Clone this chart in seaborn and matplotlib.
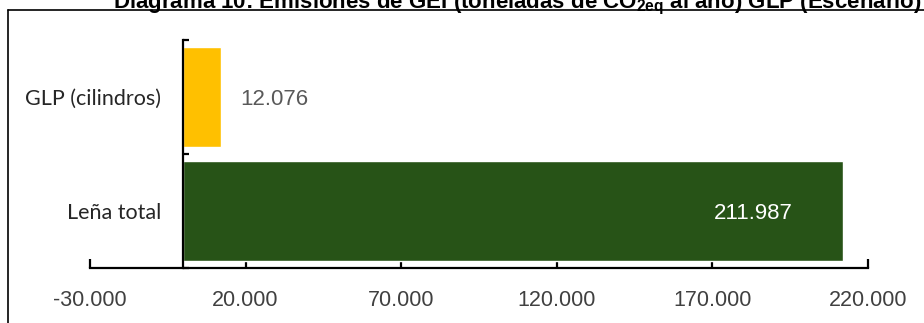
import matplotlib
matplotlib.use("Agg")
import matplotlib.pyplot as plt
from matplotlib.lines import Line2D
from matplotlib.ticker import FixedLocator, FuncFormatter
import seaborn as sns
import pandas as pd

# Emissions by fuel (t CO2eq / year)
categories = ["GLP (cilindros)", "Leña total"]
values = [12076, 211987]
colors = ["#FFC000", "#275317"]
x_ticks = [-30000, 20000, 70000, 120000, 170000, 220000]
title = r"Diagrama 10: Emisiones de GEI (toneladas de CO$_{\mathregular{2eq}}$ al año) GLP (Escenario)"

sns.set_theme(style="white")
plt.rcParams["font.family"] = ["Liberation Sans", "DejaVu Sans"]


def miles(v):
    # Spanish thousands separator
    s = f"{abs(v):,.0f}".replace(",", ".")
    return ("-" if v < 0 else "") + s


df = pd.DataFrame({"cat": categories, "val": values})

fig = plt.figure(figsize=(9.24, 3.23), dpi=100)
ax = fig.add_axes([90 / 924, 1 - 268 / 323, 778 / 924, 228 / 323])

sns.barplot(data=df, x="val", y="cat", hue="cat", palette=colors,
            orient="h", width=0.87, legend=False, ax=ax, saturation=1)

ax.set_xlim(x_ticks[0], x_ticks[-1])
ax.set_ylim(1.5, -0.5)
ax.set_xlabel("")
ax.set_ylabel("")

# Axes styling: y axis at zero, x axis spanning the full range
for side in ("top", "right"):
    ax.spines[side].set_visible(False)
ax.spines["left"].set_position(("data", 0))
for side in ("left", "bottom"):
    ax.spines[side].set_color("black")
    ax.spines[side].set_linewidth(1.6)

ax.xaxis.set_major_locator(FixedLocator(x_ticks))
ax.xaxis.set_major_formatter(FuncFormatter(lambda v, p: miles(v)))
ax.tick_params(axis="x", direction="in", length=6.5, width=1.6, color="black",
               labelsize=15.5, labelcolor="#404040", pad=16, bottom=True)

ax.yaxis.set_minor_locator(FixedLocator([-0.5, 0.5, 1.5]))
ax.tick_params(axis="y", which="minor", direction="in", length=4.5, width=1.6,
               color="black", left=True)
ax.tick_params(axis="y", which="major", length=0, pad=16, labelsize=15.5,
               labelcolor="#262626", left=True)
for lbl in ax.get_yticklabels():
    lbl.set_fontfamily(["Lato", "DejaVu Sans"])

# Value labels
for i, v in enumerate(values):
    if v > 100000:
        ax.annotate(miles(v), xy=(v, i), xytext=(-36, -1.5), textcoords="offset points",
                    ha="right", va="center", color="white", fontsize=16)
    else:
        ax.annotate(miles(v), xy=(v, i), xytext=(14, -2), textcoords="offset points",
                    ha="left", va="center", color="#595959", fontsize=16)

# Frame around the chart area
fig.add_artist(Line2D([8 / 924, 8 / 924], [1 - 10 / 323, -0.05], transform=fig.transFigure,
                      color="black", lw=1.2))
fig.add_artist(Line2D([8 / 924, 1.05], [1 - 10 / 323, 1 - 10 / 323], transform=fig.transFigure,
                      color="black", lw=1.2))

fig.text(922 / 924, 1 - 8 / 323, title, ha="right", va="baseline",
         fontsize=16, fontweight="bold", color="black")

fig.savefig("out.png", dpi=100)
